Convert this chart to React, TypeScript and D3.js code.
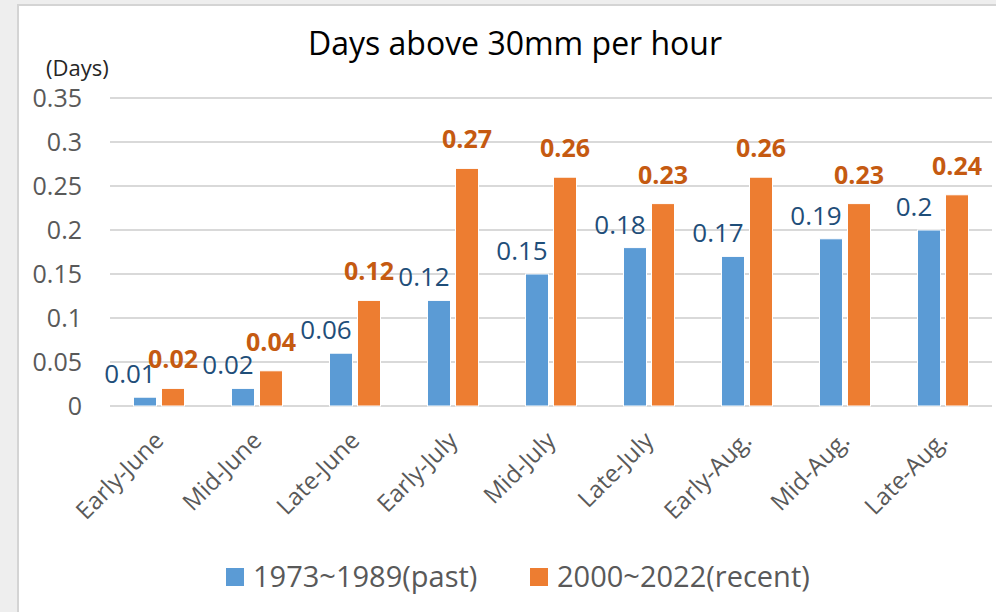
import React from 'react';
import * as d3 from 'd3';

const categories = ['Early-June', 'Mid-June', 'Late-June', 'Early-July', 'Mid-July', 'Late-July', 'Early-Aug.', 'Mid-Aug.', 'Late-Aug.'];
const pastValues = [0.01, 0.02, 0.06, 0.12, 0.15, 0.18, 0.17, 0.19, 0.2];
const recentValues = [0.02, 0.04, 0.12, 0.27, 0.26, 0.23, 0.26, 0.23, 0.24];
const yTicks = [0, 0.05, 0.1, 0.15, 0.2, 0.25, 0.3, 0.35];
const seriesNames = ['1973~1989(past)', '2000~2022(recent)'];

const WIDTH = 996;
const HEIGHT = 612;
const FONT = '"Open Sans", Lato, sans-serif';

export default function App() {
  const x = d3.scaleBand().domain(categories).range([110, 992]).padding(0);
  const y = d3.scaleLinear().domain([0, 0.35]).range([406, 98]);
  const bw = x.bandwidth();
  // two bars of 23px with a 5px gap, centred in each category
  const inner = d3.scaleBand().domain(seriesNames)
    .range([bw / 2 - 25.5, bw / 2 + 25.5])
    .paddingInner(5 / 28);

  const fmt = (v: number) => String(v);

  return (
    <svg width={WIDTH} height={HEIGHT} style={{ position: 'absolute', left: 0, top: 0 }}>
      <rect x={0} y={0} width={WIDTH} height={HEIGHT} fill='#eeeeee' />
      <rect x={18} y={5} width={WIDTH} height={HEIGHT} fill='#ffffff' stroke='#d4d4d4' strokeWidth={2} />

      <text x={515} y={55} textAnchor='middle' fontFamily={FONT} fontSize={32} fill='#000'>
        Days above 30mm per hour
      </text>
      <text x={46} y={76} fontFamily={FONT} fontSize={22} fill='#262626'>(Days)</text>

      {yTicks.map(t => (
        <g key={t}>
          <line x1={110} x2={992} y1={y(t)} y2={y(t)} stroke='#d9d9d9' strokeWidth={2} />
          <text x={82} y={y(t)} dy='0.36em' textAnchor='end' fontFamily={FONT} fontSize={25} fill='#595959'>
            {fmt(t)}
          </text>
        </g>
      ))}

      {categories.map((c, i) => {
        const x0 = x(c) as number;
        const bx = x0 + (inner(seriesNames[0]) as number);
        const ox = x0 + (inner(seriesNames[1]) as number);
        const iw = inner.bandwidth();
        const cx = x0 + bw / 2;
        return (
          <g key={c}>
            <rect x={bx} y={y(pastValues[i])} width={iw} height={y(0) - y(pastValues[i])}
              fill='#5b9bd5' stroke='#ffffff' strokeWidth={1} />
            <rect x={ox} y={y(recentValues[i])} width={iw} height={y(0) - y(recentValues[i])}
              fill='#ed7d31' stroke='#ffffff' strokeWidth={1} />
            <text x={bx + iw / 2 - 15} y={y(pastValues[i]) - 14} textAnchor='middle'
              fontFamily={FONT} fontSize={26} fill='#1f4e79'>{fmt(pastValues[i])}</text>
            <text x={ox + iw / 2} y={y(recentValues[i]) - 20} textAnchor='middle'
              fontFamily={FONT} fontSize={25} fontWeight='bold' fill='#c55a11'>{fmt(recentValues[i])}</text>
            <text transform={`translate(${cx + 6},${442}) rotate(-45)`} textAnchor='end'
              fontFamily={FONT} fontSize={24} fill='#595959'>{c}</text>
          </g>
        );
      })}

      {seriesNames.map((s, i) => {
        const lx = i === 0 ? 226 : 530;
        return (
          <g key={s}>
            <rect x={lx} y={568} width={18} height={18} fill={i === 0 ? '#5b9bd5' : '#ed7d31'} />
            <text x={lx + 27} y={587} fontFamily={FONT} fontSize={29} fill='#595959'>{s}</text>
          </g>
        );
      })}
    </svg>
  );
}
